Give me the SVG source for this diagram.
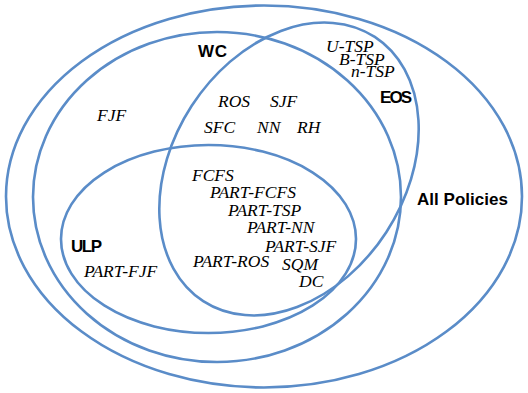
<svg xmlns="http://www.w3.org/2000/svg" width="528" height="393" viewBox="0 0 528 393">
<style>
.set{fill:none;stroke:#5a8cc8;stroke-width:2.6}
.lbl{font-family:"Liberation Sans",Arial,sans-serif;font-weight:bold;font-size:17px;fill:#000}
.it{font-family:"Liberation Serif","Times New Roman",serif;font-style:italic;font-size:17.5px;fill:#000}
</style>
<rect width="528" height="393" fill="#fff"/>
<g id="connectors"></g>
<g id="all-policies">
<ellipse class="set" cx="264" cy="196.5" rx="258" ry="191"/>
<text class="lbl" x="417" y="205" textLength="91">All Policies</text>
</g>
<g id="wc">
<ellipse class="set" cx="217" cy="197" rx="184" ry="165"/>
<text class="lbl" x="198" y="57" textLength="29">WC</text>
<text class="it" x="97" y="121">FJF</text>
</g>
<g id="eos">
<ellipse class="set" cx="289" cy="169" rx="116" ry="157.5" transform="rotate(33 289 169)"/>
<text class="lbl" x="380" y="103" textLength="32">EOS</text>
<text class="it" x="326" y="52">U-TSP</text>
<text class="it" x="339" y="65">B-TSP</text>
<text class="it" x="351" y="77">n-TSP</text>
<text class="it" x="218" y="107">ROS</text>
<text class="it" x="270" y="107">SJF</text>
<text class="it" x="204" y="133">SFC</text>
<text class="it" x="257" y="133">NN</text>
<text class="it" x="297" y="133">RH</text>
</g>
<g id="ulp">
<ellipse class="set" cx="208.5" cy="239" rx="147.5" ry="94"/>
<text class="lbl" x="71" y="252" textLength="31">ULP</text>
<text class="it" x="84" y="277">PART-FJF</text>
<text class="it" x="192" y="181">FCFS</text>
<text class="it" x="210" y="198">PART-FCFS</text>
<text class="it" x="228" y="216">PART-TSP</text>
<text class="it" x="247" y="233">PART-NN</text>
<text class="it" x="265" y="252">PART-SJF</text>
<text class="it" x="193" y="267">PART-ROS</text>
<text class="it" x="282" y="270">SQM</text>
<text class="it" x="299" y="287">DC</text>
</g>
</svg>
